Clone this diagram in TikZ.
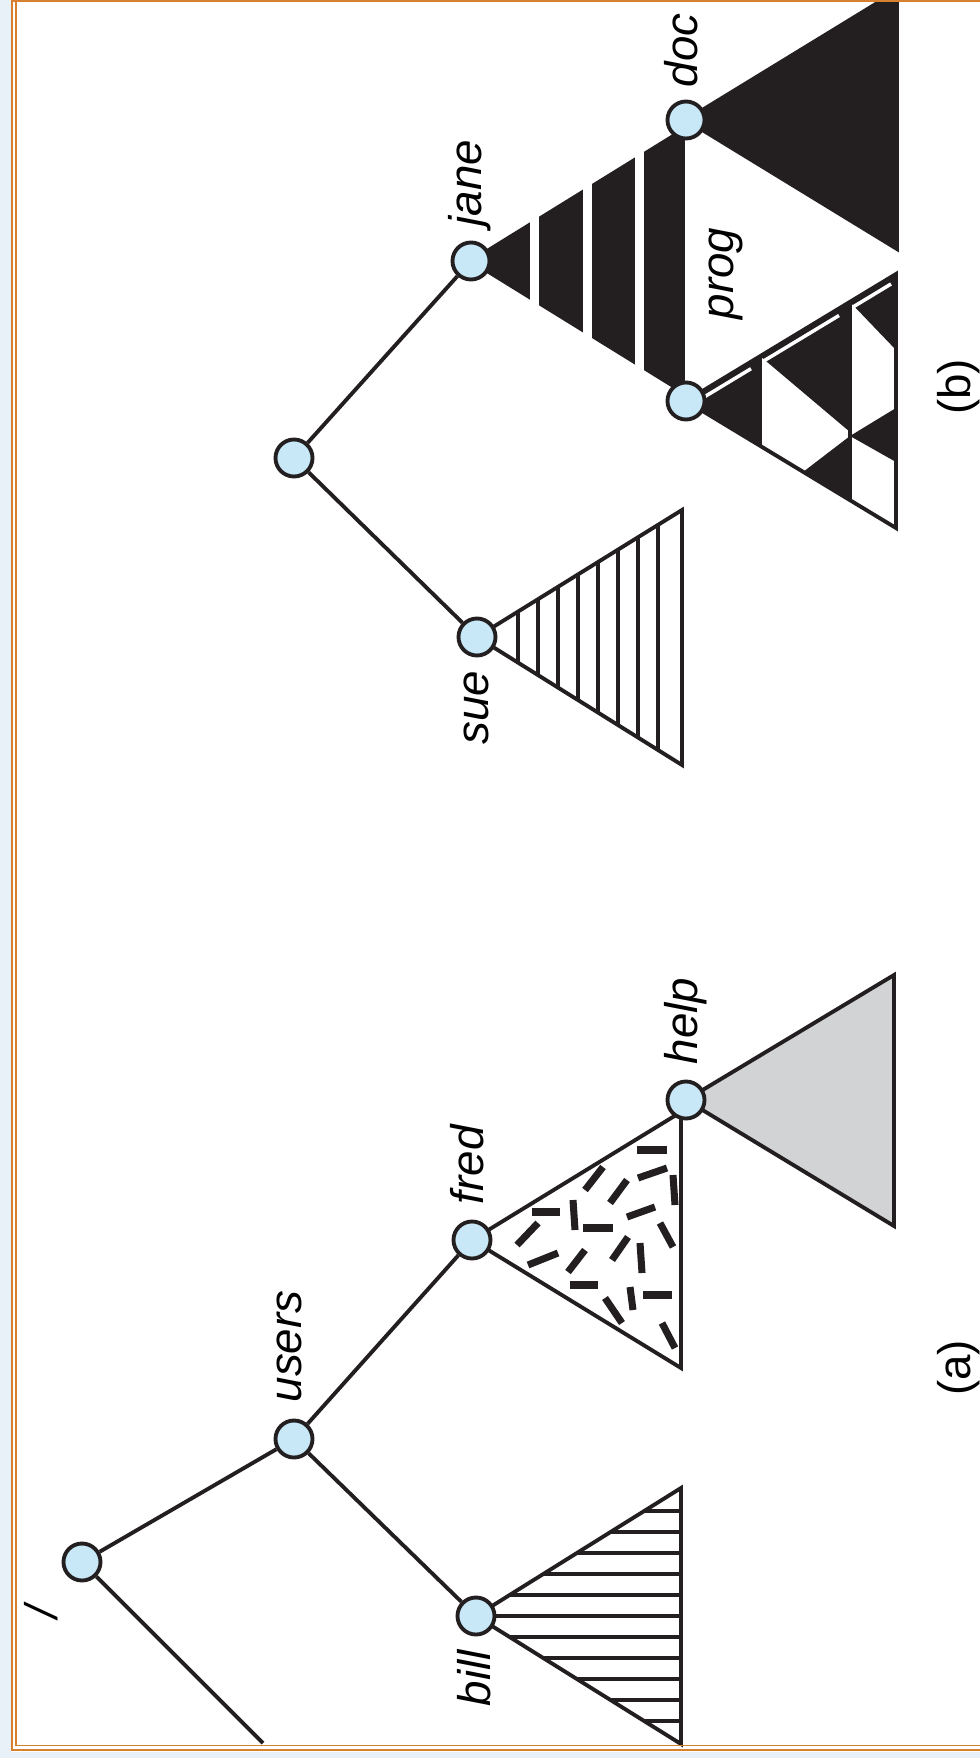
\documentclass[tikz,border=0pt]{standalone}
\usepackage{fontspec}
\setmainfont{Liberation Sans}
\definecolor{nodeblue}{RGB}{200,232,248}
\definecolor{ink}{RGB}{35,31,32}
\definecolor{helpgray}{RGB}{209,211,212}
\definecolor{framecol}{RGB}{214,128,48}
\definecolor{stripcol}{RGB}{232,241,248}
\pgfdeclarelayer{bg}
\pgfsetlayers{bg,main}

\begin{document}
\begin{tikzpicture}[
  x=0.01cm, y=-0.01cm,
  dir/.style={circle, draw=ink, line width=1.1pt, fill=nodeblue, minimum size=3.7mm, inner sep=0pt},
  lbl/.style={rotate=90, anchor=base west, inner sep=0pt, font=\fontsize{13}{15}\selectfont\itshape},
  figlbl/.style={rotate=90, anchor=base, inner sep=0pt, font=\fontsize{13}{15}\selectfont},
  edge/.style={draw=ink, line width=1.1pt},
  tri/.style={draw=ink, line width=1.1pt, line join=miter},
  hatch/.style={ink, line width=0.9pt},
  bit/.style={ink, line width=2pt}
]
\useasboundingbox (0,0) rectangle (980,1758);
\fill[stripcol] (0,0) rectangle (11,1758);
\fill[stripcol] (0,1752) rectangle (980,1758);
\draw[framecol, line width=0.6pt] (12,0) -- (12,1750) -- (980,1750);
\draw[framecol, line width=0.5pt] (16,1) -- (16,1745.5) -- (980,1745.5);
\draw[framecol, line width=0.6pt] (12,0.8) -- (980,0.8);

\node[dir] (root) at (82,1562) {};
\node[dir] (users) at (294,1439) {};
\node[dir] (bill) at (476,1616) {};
\node[dir] (fred) at (472,1240) {};
\node[dir] (help) at (686,1100) {};
\node[dir] (rootb) at (294,458) {};
\node[dir] (sue) at (477,637) {};
\node[dir] (jane) at (471,261) {};
\node[dir] (doc) at (686,120) {};
\node[dir] (prog) at (686,401) {};
\coordinate (cut) at (263,1743);

\draw[edge] (root) -- (users);
\draw[edge] (users) -- (bill);
\draw[edge] (users) -- (fred);
\draw[edge] (root) -- (cut);
\draw[edge] (rootb) -- (sue);
\draw[edge] (rootb) -- (jane);

\begin{pgfonlayer}{bg}
  \begin{scope}
    \clip (bill.center) -- (681,1488) -- (681,1744) -- cycle;
    \foreach \y in {1490,1511,...,1742}
      \draw[hatch, line width=1pt] (470,\y) -- (690,\y);
  \end{scope}
  \draw[tri] (bill.center) -- (681,1488) -- (681,1744) -- cycle;

  \draw[tri] (fred.center) -- (681,1112) -- (681,1368) -- cycle;
  \foreach \xa/\ya/\xb/\yb in {637/1150/667/1150, 638/1178/667/1168, 673/1175/675/1205,
      585/1190/603/1167, 610/1203/627/1180, 532/1212/560/1212, 573/1200/575/1230,
      627/1217/655/1207, 517/1245/538/1223, 583/1228/613/1228, 660/1223/673/1247,
      528/1265/558/1253, 568/1272/585/1250, 612/1260/628/1237, 640/1243/642/1273,
      570/1285/598/1285, 630/1287/633/1310, 643/1295/672/1295, 605/1298/622/1323,
      662/1323/675/1348}
    \draw[bit] (\xa,\ya) -- (\xb,\yb);

  \filldraw[tri, fill=helpgray] (help.center) -- (894,975) -- (894,1226) -- cycle;

  \begin{scope}
    \clip (sue.center) -- (682,510) -- (682,765) -- cycle;
    \foreach \x in {518,538,...,658}
      \draw[hatch] (\x,500) -- (\x,780);
  \end{scope}
  \draw[tri] (sue.center) -- (682,510) -- (682,765) -- cycle;

  \filldraw[tri, fill=ink] (jane.center) -- (683,130) -- (683,392) -- cycle;
  \foreach \x in {530,583,635}
    \fill[white] (\x,100) rectangle ++(9,320);

  \begin{scope}
    \clip (0,2) rectangle (980,1758);
    \filldraw[tri, fill=ink] (doc.center) -- (897,-9) -- (897,249) -- cycle;
  \end{scope}

  \fill[ink] (prog.center) -- (760,356) -- (760,446) -- cycle;
  \fill[ink] (760,356) -- (850,302) -- (850,432) -- cycle;
  \fill[ink] (803,472) -- (850,436) -- (850,500) -- cycle;
  \fill[ink] (850,302) -- (896,274) -- (896,350) -- cycle;
  \fill[ink] (850,436) -- (896,408) -- (896,462) -- cycle;
  \draw[white, line width=1pt] (705,396.5) -- (751,368.7) (763,361.4) -- (839,315.5) (852,307.6) -- (891,284);
  \draw[hatch] (760,356) -- (760,446) (850,302) -- (850,500);
  \draw[tri] (prog.center) -- (896,274) -- (896,528) -- cycle;
\end{pgfonlayer}

\node[lbl] (t-users) at (301,1403) {users};
\node[lbl] (t-bill) at (490,1707) {bill};
\node[lbl] (t-fred) at (483,1205) {fred};
\node[lbl] (t-help) at (697,1065) {help};
\node[lbl] (t-sue) at (488,745) {sue};
\node[lbl] (t-jane) at (481,227) {jane};
\node[lbl] (t-doc) at (697,88) {doc};
\node[lbl] (t-prog) at (733,320) {prog};
\node[lbl, anchor=center] (t-root) at (41,1612) {/};
\node[figlbl] (t-a) at (970,1368) {(a)};
\node[figlbl] (t-b) at (970,387) {(b)};
\end{tikzpicture}
\end{document}
